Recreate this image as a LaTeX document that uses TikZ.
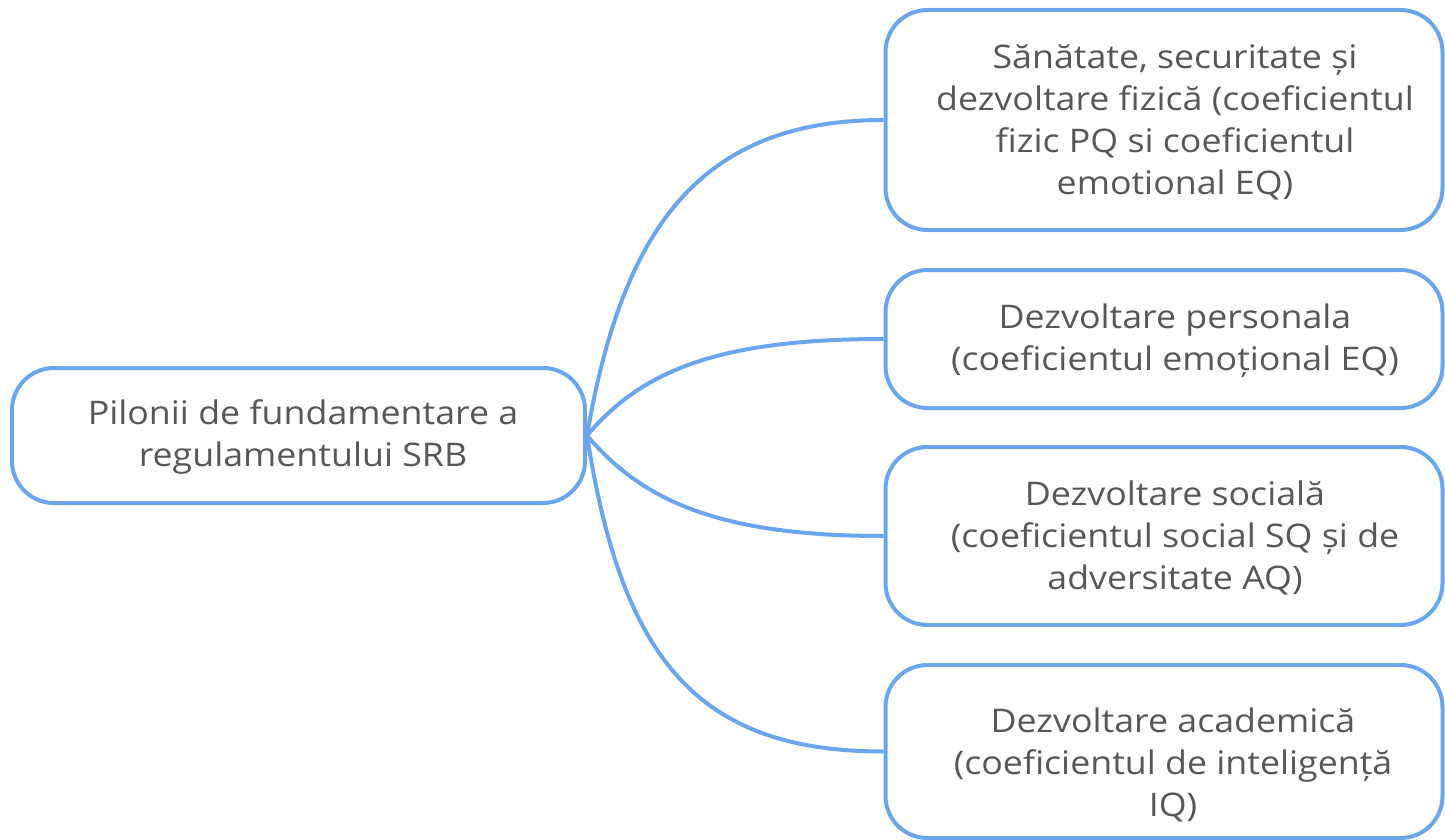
\documentclass[tikz,border=0pt]{standalone}
\usepackage{fontspec}
\setmainfont{Open Sans}[FakeStretch=1.1]
\definecolor{linkblue}{HTML}{6AA6EE}
\definecolor{txtgray}{HTML}{575757}
\begin{document}
\begin{tikzpicture}[x=1pt,y=-1pt,
  box/.style={draw=linkblue, line width=4pt, rounded corners=42pt, fill=white,
    minimum width=557pt, inner sep=0pt},
  lbl/.style={text=txtgray, align=center, inner sep=0pt,
    font=\fontsize{32.5}{42}\selectfont},
  link/.style={draw=linkblue, line width=4pt}]
\useasboundingbox (0,0) rectangle (1445,840);
\node[box, minimum width=573pt, minimum height=135pt] (c) at (298.5,435.5) {};
\node[box, minimum height=220pt] (b1) at (1164,120) {};
\node[box, minimum height=138pt] (b2) at (1164,339) {};
\node[box, minimum height=178pt] (b3) at (1164,536) {};
\node[box, minimum height=173pt] (b4) at (1164,751.5) {};
\node[lbl] (tc) at (303,437) {Pilonii de fundamentare a\\regulamentului SRB};
\node[lbl] (t1) at (1175,122) {Sănătate, securitate și\\dezvoltare fizică (coeficientul\\fizic PQ si coeficientul\\emotional EQ)};
\node[lbl] (t2) at (1175,341) {Dezvoltare personala\\(coeficientul emoțional EQ)};
\node[lbl] (t3) at (1175,538) {Dezvoltare socială\\(coeficientul social SQ și de\\adversitate AQ)};
\node[lbl] (t4) at (1173,765) {Dezvoltare academică\\(coeficientul de inteligență\\IQ)};
\draw[link] (c.east) .. controls +(35,-205) and +(-185,0) .. (b1.west);
\draw[link] (c.east) .. controls +(55,-65) and +(-165,0) .. (b2.west);
\draw[link] (c.east) .. controls +(55,65) and +(-165,0) .. (b3.west);
\draw[link] (c.east) .. controls +(35,225) and +(-185,0) .. (b4.west);
\end{tikzpicture}
\end{document}
